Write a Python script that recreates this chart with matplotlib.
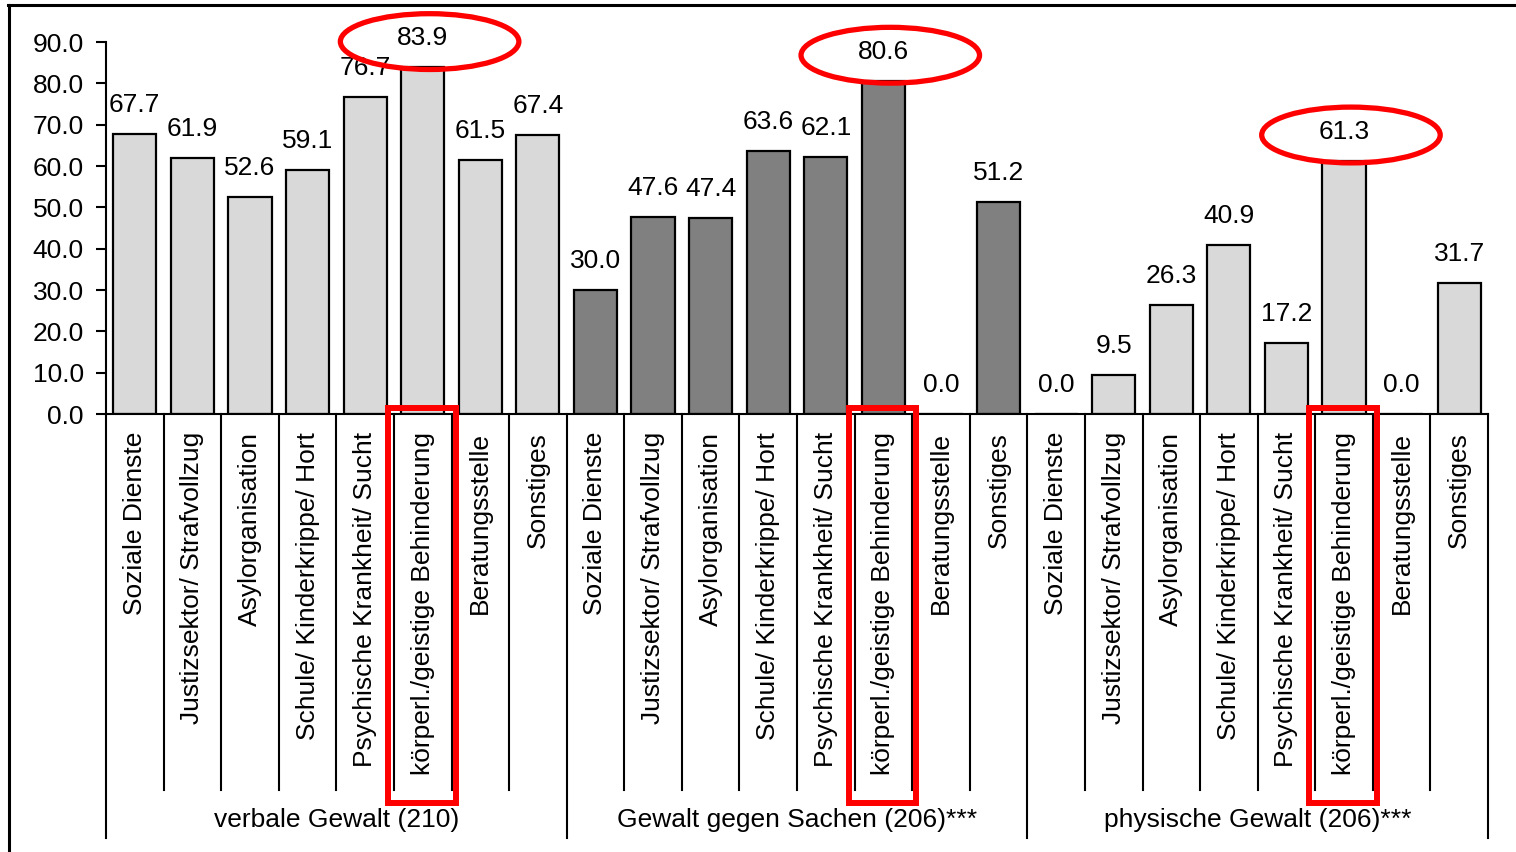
import matplotlib
matplotlib.use("Agg")
import matplotlib.pyplot as plt
from matplotlib.patches import Ellipse, Rectangle
from matplotlib.lines import Line2D
import matplotlib.transforms as mtransforms

# Kategorien (gleich in allen drei Gruppen)
kategorien = [
    "Soziale Dienste",
    "Justizsektor/ Strafvollzug",
    "Asylorganisation",
    "Schule/ Kinderkrippe/ Hort",
    "Psychische Krankheit/ Sucht",
    "körperl./geistige Behinderung",
    "Beratungsstelle",
    "Sonstiges",
]

gruppen = ["verbale Gewalt (210)", "Gewalt gegen Sachen (206)***", "physische Gewalt (206)***"]

verbal = [67.7, 61.9, 52.6, 59.1, 76.7, 83.9, 61.5, 67.4]
sachen = [30.0, 47.6, 47.4, 63.6, 62.1, 80.6, 0.0, 51.2]
physisch = [0.0, 9.5, 26.3, 40.9, 17.2, 61.3, 0.0, 31.7]

farben = ["#d9d9d9", "#808080", "#d9d9d9"]

# markierte Kategorie (rot eingekreist)
markiert = "körperl./geistige Behinderung"


def main():
    plt.rcParams["font.family"] = ["Liberation Sans", "DejaVu Sans"]
    fs = 19

    fig = plt.figure(figsize=(15.16, 8.52), dpi=100)
    ax = fig.add_axes([106 / 1516, 1 - 414 / 852, (1488 - 106) / 1516, 372 / 852])

    werte = verbal + sachen + physisch
    n = len(kategorien)
    x = list(range(len(werte)))
    cols = []
    for g in range(len(gruppen)):
        cols += [farben[g]] * n

    ax.bar(x, werte, width=0.75, color=cols, edgecolor="black", linewidth=1.6, zorder=2)

    for xi, v in zip(x, werte):
        ax.text(xi, v + 7, "%.1f" % v, ha="center", va="center", fontsize=fs, zorder=3)

    ax.set_xlim(-0.5, len(werte) - 0.5)
    ax.set_ylim(0, 90)
    ax.set_yticks(range(0, 91, 10))
    ax.set_yticklabels(["%.1f" % t for t in range(0, 91, 10)], fontsize=fs)
    ax.set_xticks([])
    ax.tick_params(axis="y", direction="out", length=7, width=1.5, pad=9)
    for s in ["top", "right"]:
        ax.spines[s].set_visible(False)
    ax.spines["left"].set_linewidth(1.5)
    ax.spines["bottom"].set_linewidth(1.5)

    trans = mtransforms.blended_transform_factory(ax.transData, ax.transAxes)

    # Kategorie-Beschriftungen und Trennlinien
    for i, xi in enumerate(x):
        ax.text(xi, -0.048, kategorien[i % n], rotation=90, ha="center", va="top",
                fontsize=fs, transform=trans, clip_on=False)
        if i % n != 0:
            ax.add_line(Line2D([xi - 0.5, xi - 0.5], [0, -1.011], color="black",
                               linewidth=1.5, transform=trans, clip_on=False))

    for g in range(len(gruppen) + 1):
        xb = g * n - 0.5
        ax.add_line(Line2D([xb, xb], [0, -1.14], color="black", linewidth=1.5,
                           transform=trans, clip_on=False))
    for g, name in enumerate(gruppen):
        ax.text(g * n + (n - 1) / 2, -1.091, name, ha="center", va="center",
                fontsize=fs, transform=trans, clip_on=False)

    # rote Markierungen
    k = kategorien.index(markiert)
    for g in range(len(gruppen)):
        xi = g * n + k
        v = werte[xi]
        ax.add_patch(Ellipse((xi + 0.12, v + 6.2), 3.1, 13.5, fill=False,
                             edgecolor="red", linewidth=3.8, zorder=4, clip_on=False))
        ax.add_patch(Rectangle((xi - 0.6, -1.045), 1.17, 1.06, fill=False,
                               edgecolor="red", linewidth=4.3, transform=trans,
                               zorder=4, clip_on=False))

    # Rahmen oben und links
    fig.add_artist(Line2D([8 / 1516, 1], [1 - 5 / 852, 1 - 5 / 852], color="black",
                          linewidth=2.2, transform=fig.transFigure))
    fig.add_artist(Line2D([9 / 1516, 9 / 1516], [0, 1 - 5 / 852], color="black",
                          linewidth=2.2, transform=fig.transFigure))

    fig.savefig("out.png", dpi=100)


if __name__ == "__main__":
    main()
